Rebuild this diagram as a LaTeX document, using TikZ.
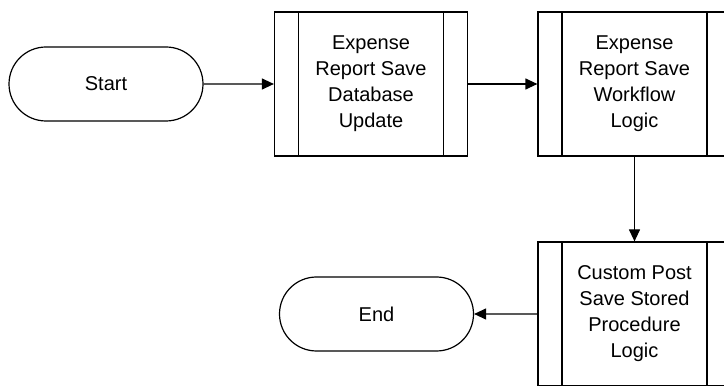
\documentclass[tikz,border=0pt]{standalone}
\usepackage{fontspec}
\setmainfont{Liberation Sans}
\usetikzlibrary{shapes.misc,arrows.meta}

\begin{document}
\begin{tikzpicture}[x=1pt, y=1pt,
    every node/.style={font=\fontsize{20}{26}\selectfont, align=center},
    terminal/.style={draw, line width=1.2pt, rounded rectangle, minimum width=194pt, minimum height=74pt, inner sep=0pt},
    process/.style={draw, line width=1.2pt, rectangle, minimum width=193pt, minimum height=144pt, inner sep=0pt,
        path picture={
            \draw[line width=1.2pt] ([xshift=24pt]path picture bounding box.north west) -- ([xshift=24pt]path picture bounding box.south west);
            \draw[line width=1.2pt] ([xshift=-24pt]path picture bounding box.north east) -- ([xshift=-24pt]path picture bounding box.south east);
        }},
    flow/.style={line width=1.2pt, -{Triangle[length=12pt,width=11pt]}}]
    \clip (0,0) rectangle (724,386);

    % Top row
    \node[terminal] (start) at (106,302) {Start};
    \node[process] (dbupdate) at (371,302) {Expense\\Report Save\\Database\\Update};
    \node[process] (workflow) at (634.5,302) {Expense\\Report Save\\Workflow\\Logic};

    % Bottom row
    \node[process] (custompost) at (634.5,72) {Custom Post\\Save Stored\\Procedure\\Logic};
    \node[terminal] (end) at (376.5,72) {End};

    % Connections
    \draw[flow] (start) -- (dbupdate);
    \draw[flow] (dbupdate) -- (workflow);
    \draw[flow] (workflow) -- (custompost);
    \draw[flow] (custompost) -- (end);
\end{tikzpicture}
\end{document}
